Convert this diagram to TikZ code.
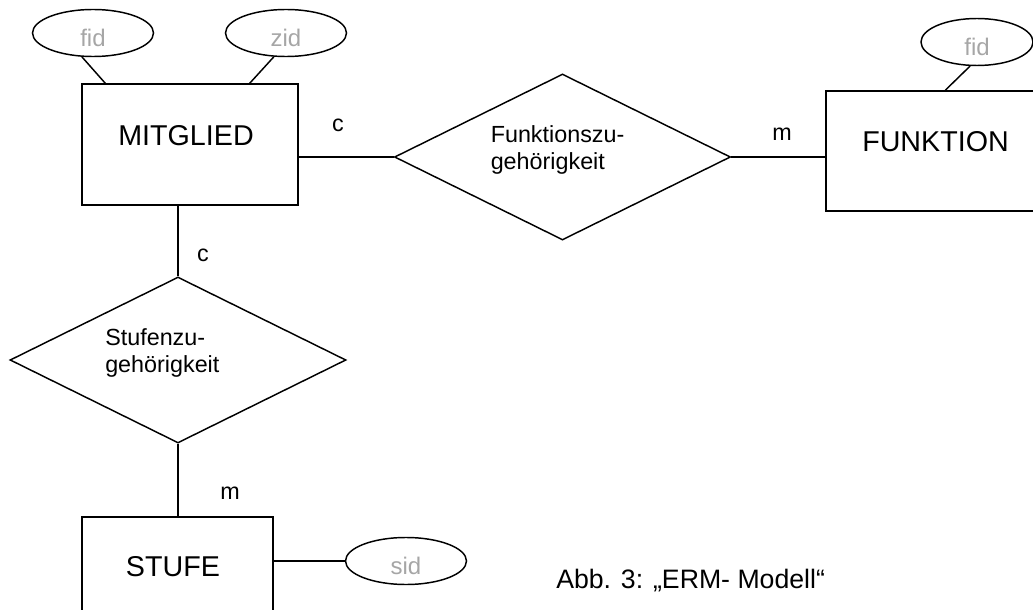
\documentclass[tikz,border=0pt]{standalone}
\usepackage{fontspec}
\setmainfont{Liberation Sans}
\usetikzlibrary{shapes.geometric}

\tikzset{
  entity/.style={draw, line width=1.1pt, inner sep=0pt},
  relation/.style={draw, diamond, line width=1.1pt, inner sep=0pt, minimum width=252pt, minimum height=124.5pt},
  attr/.style={draw, ellipse, line width=1.1pt, inner sep=0pt, minimum width=90.75pt, minimum height=35.25pt, text height=20pt, text depth=0pt, text=black!35, font=\fontsize{18}{20}\selectfont},
  bigname/.style={inner sep=0pt, font=\fontsize{21.5}{24}\selectfont},
  reltext/.style={anchor=west, align=left, inner sep=0pt, font=\fontsize{17.5}{20.25}\selectfont},
  card/.style={inner sep=0pt, font=\fontsize{17.5}{20}\selectfont},
  link/.style={line width=1.1pt}
}

\begin{document}
\begin{tikzpicture}[x=0.75pt,y=-0.75pt]
\useasboundingbox (0,0) rectangle (1033,610);
\clip (0,0) rectangle (1033,610);

\node[entity, minimum width=162pt, minimum height=90.75pt] (mitglied) at (190,144.5) {};
\node[bigname] at ([xshift=-3pt,yshift=7pt]mitglied.center) {MITGLIED};

\node[entity, minimum width=164.25pt, minimum height=90pt] (funktion) at (935.5,151) {};
\node[bigname] at ([xshift=0pt,yshift=6.75pt]funktion.center) {FUNKTION};

\node[entity, minimum width=143.25pt, minimum height=90pt] (stufe) at (177.5,577) {};
\node[bigname] at ([xshift=-3.4pt,yshift=7.5pt]stufe.center) {STUFE};

\node[relation] (fzug) at (562.5,157) {};
\node[reltext] at ([xshift=-54pt,yshift=5pt]fzug.center) {Funktionszu-\\geh\"origkeit};

\node[relation] (szug) at (178,360) {};
\node[reltext] at ([xshift=-54.75pt,yshift=5pt]szug.center) {Stufenzu-\\geh\"origkeit};

\node[attr] (mfid) at (93,33) {fid};
\node[attr] (mzid) at (286,33) {zid};
\node[attr, minimum width=84pt] (ffid) at (977,42) {fid};
\node[attr] (ssid) at (406,561) {sid};

\draw[link] (mfid.245) -- ([xshift=18pt]mitglied.north west);
\draw[link] (mzid.243) -- ([xshift=-36.75pt]mitglied.north east);
\draw[link] (ffid.254) -- ([xshift=90pt]funktion.north west);
\draw[link] (stufe.east |- ssid.west) -- (ssid.west);

\draw[link] (mitglied.east |- fzug.west) -- (fzug.west);
\draw[link] (fzug.east) -- (funktion.west |- fzug.east);
\draw[link] (szug.north |- mitglied.south) -- (szug.north);
\draw[link] (szug.south) -- (szug.south |- stufe.north);

\node[card] (c1) at (338,125) {c};
\node[card] (m1) at (782,134) {m};
\node[card] (c2) at (203,255) {c};
\node[card] (m2) at (230,493) {m};

\node[anchor=west, inner sep=0pt, font=\fontsize{20}{22}\selectfont] (caption) at (556,581) {Abb. 3: „ERM- Modell“};
\end{tikzpicture}
\end{document}
